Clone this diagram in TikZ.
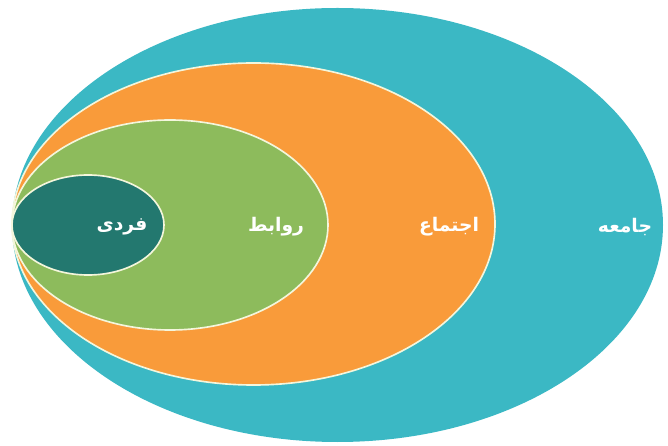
\documentclass[tikz,border=0pt]{standalone}
\usepackage{fontspec}
\newfontfamily\arabicfont[Script=Arabic]{DejaVu Sans}
\TeXXeTstate=1
\usepackage{tikz}
\definecolor{jameh}{HTML}{3BB8C4}
\definecolor{ejtema}{HTML}{F99B3A}
\definecolor{ravabet}{HTML}{8DBB5C}
\definecolor{fardi}{HTML}{23786F}
\definecolor{rim}{HTML}{F4F6DC}

\begin{document}
\begin{tikzpicture}[x=0.03cm,y=0.03cm,font=\arabicfont\bfseries\fontsize{16}{18}\selectfont]
  \useasboundingbox (0,0) rectangle (668,445);
  \fill[jameh] (337.5,220) ellipse [x radius=325.5,y radius=217];
  \filldraw[fill=ejtema,draw=rim,line width=1.4pt] (253.5,221) ellipse [x radius=241.5,y radius=161];
  \filldraw[fill=ravabet,draw=rim,line width=1.4pt] (170,220) ellipse [x radius=158,y radius=105];
  \filldraw[fill=fardi,draw=rim,line width=1.4pt] (88,220) ellipse [x radius=76,y radius=50];
  \node[text=white] (lfardi) at (122,218) {\beginR فردی\endR};
  \node[text=white] (lravabet) at (276,218) {\beginR روابط\endR};
  \node[text=white] (lejtema) at (449,218) {\beginR اجتماع\endR};
  \node[text=white] (ljameh) at (625,218) {\beginR جامعه\endR};
\end{tikzpicture}
\end{document}
